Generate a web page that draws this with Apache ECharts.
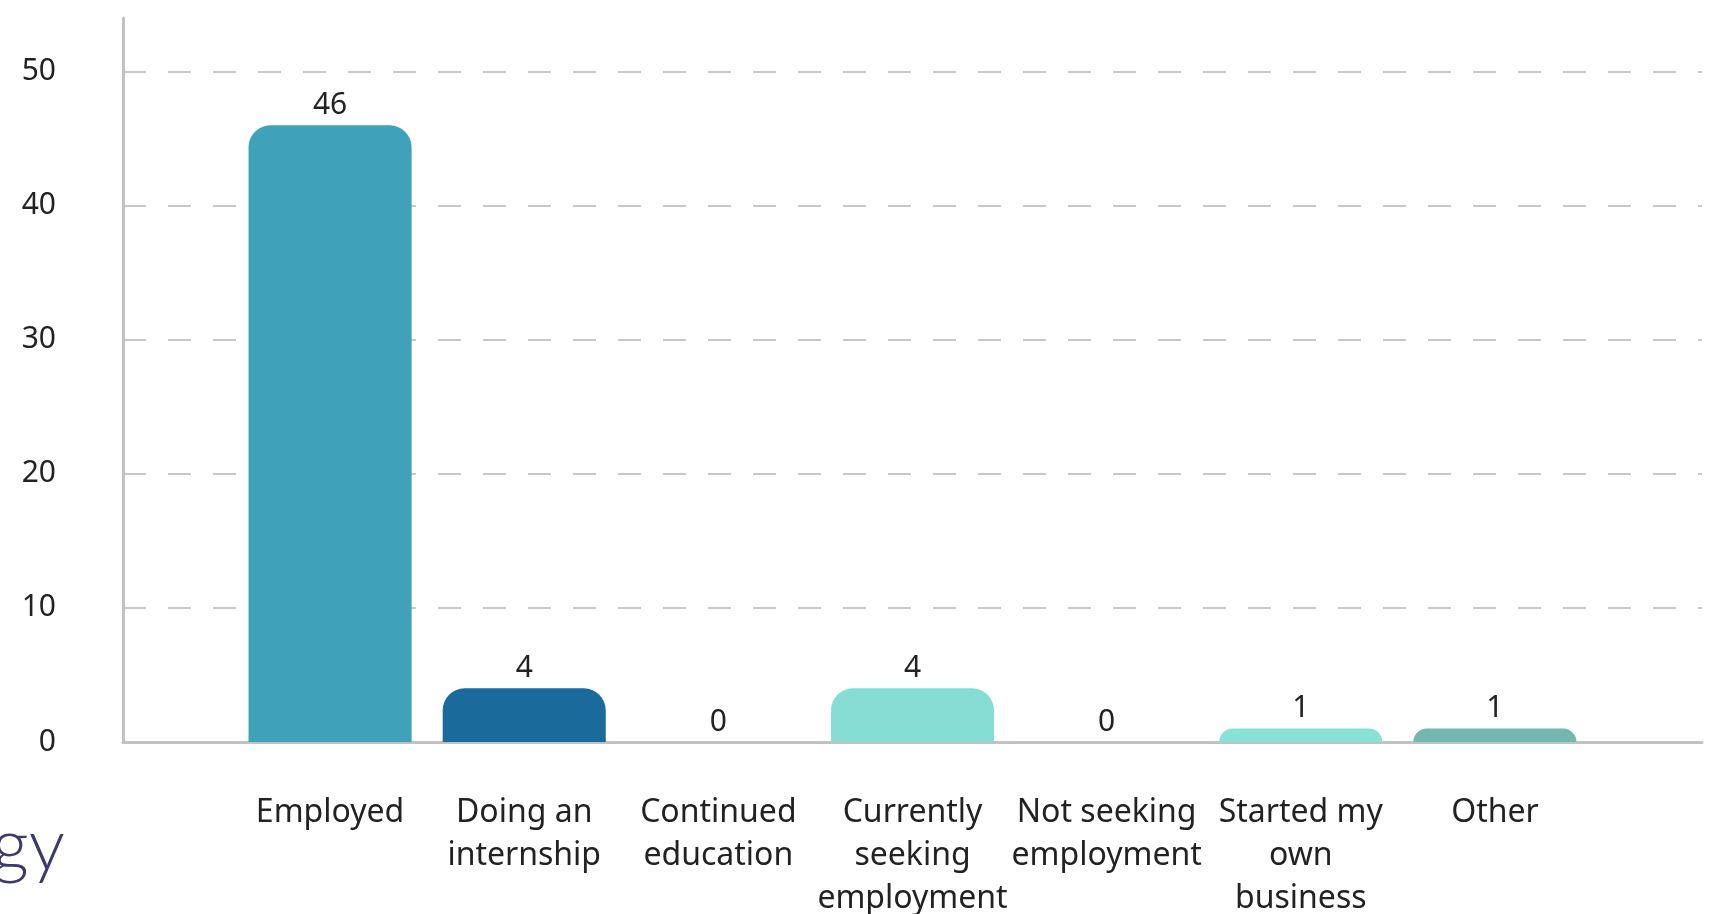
<!DOCTYPE html>
<html>
<head>
<meta charset="utf-8">
<script src="https://cdn.jsdelivr.net/npm/echarts@6/dist/echarts.min.js"></script>
<style>
html,body{margin:0;padding:0;background:#fff;}
#chart{width:1711px;height:914px;}
</style>
</head>
<body>
<div id="chart"></div>
<script>
const categories = [
  'Employed',
  'Doing an\ninternship',
  'Continued\neducation',
  'Currently\nseeking\nemployment',
  'Not seeking\nemployment',
  'Started my\nown\nbusiness',
  'Other'
];
const values = [46, 4, 0, 4, 0, 1, 1];
const barColors = ['#3fa2ba', '#1a6a9b', '#3fa2ba', '#86ddd3', '#86ddd3', '#88e2d6', '#72b8ae'];
const yTicks = { min: 0, max: 54, interval: 10 };
const titleFragment = 'gy';

const FONT = '"Noto Sans", sans-serif';
const chart = echarts.init(document.getElementById('chart'));
chart.setOption({
  animation: false,
  backgroundColor: '#ffffff',
  title: {
    text: titleFragment,
    left: -13,
    top: 806,
    textStyle: { fontFamily: 'Lato', fontSize: 72, fontWeight: 300, color: '#3b3a6d' }
  },
  grid: [
    { left: 123, right: 9, top: 18, bottom: 172, outerBoundsMode: 'none', containLabel: false },
    { left: 233, right: 119, top: 18, bottom: 172, outerBoundsMode: 'none', containLabel: false }
  ],
  xAxis: [
    {
      type: 'category', gridIndex: 0, data: [''],
      axisLine: { show: true, lineStyle: { color: '#c2c2c2', width: 3 } },
      axisTick: { show: false }, axisLabel: { show: false }, splitLine: { show: false }
    },
    {
      type: 'category', gridIndex: 1, data: categories,
      axisLine: { show: false }, axisTick: { show: false },
      axisLabel: {
        fontFamily: FONT, fontSize: 32, color: '#222', margin: 49,
        lineHeight: 43, interval: 0
      }
    }
  ],
  yAxis: [
    {
      type: 'value', gridIndex: 0, min: yTicks.min, max: yTicks.max, interval: yTicks.interval,
      axisLine: { show: true, lineStyle: { color: '#c2c2c2', width: 3 } },
      axisTick: { show: false },
      axisLabel: { fontFamily: FONT, fontSize: 30, color: '#222', margin: 67, showMaxLabel: false },
      splitLine: { show: true, showMaxLine: false, lineStyle: { color: '#c8c8c8', width: 2, type: [23, 22] } }
    },
    {
      type: 'value', gridIndex: 1, min: yTicks.min, max: yTicks.max, interval: yTicks.interval,
      show: false, splitLine: { show: false }
    }
  ],
  series: [{
    type: 'bar',
    xAxisIndex: 1, yAxisIndex: 1,
    barCategoryGap: '16%',
    data: values.map((v, i) => ({ value: v, itemStyle: { color: barColors[i] } })),
    itemStyle: { borderRadius: [22, 22, 0, 0] },
    label: {
      show: true, position: 'top', distance: 5,
      fontFamily: FONT, fontSize: 30, color: '#222'
    }
  }]
});
</script>
</body>
</html>
